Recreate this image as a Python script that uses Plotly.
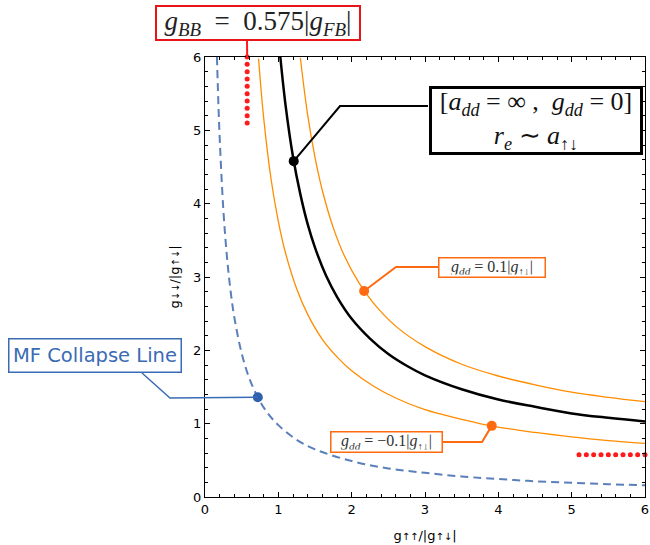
import plotly.graph_objects as go

# ---------------- data ----------------
mf_x = [0.163, 0.18, 0.2, 0.25, 0.3, 0.35, 0.4, 0.5, 0.6, 0.72, 0.85, 1.0, 1.25, 1.5,
        2.0, 2.5, 3.0, 3.5, 4.0, 4.5, 5.0, 5.5, 6.0]
mf_y = [6.0, 5.44, 4.9, 3.92, 3.27, 2.8, 2.45, 1.96, 1.63, 1.36, 1.15, 0.98, 0.78, 0.65,
        0.49, 0.39, 0.33, 0.28, 0.245, 0.215, 0.195, 0.175, 0.16]

black_x = [1.027, 1.1, 1.2, 1.3, 1.4, 1.5, 1.65, 1.8, 2.0, 2.25, 2.5, 2.75, 3.0, 3.5,
           4.0, 4.5, 5.0, 5.5, 6.0]
black_y = [6.0, 5.33, 4.64, 4.13, 3.72, 3.40, 3.02, 2.73, 2.43, 2.16, 1.95, 1.79, 1.66, 1.47,
           1.33, 1.23, 1.14, 1.08, 1.03]

orange_up_x = [1.3, 1.4, 1.5, 1.6, 1.75, 1.9, 2.1, 2.3, 2.6, 3.0, 3.5, 4.0, 4.5, 5.0, 5.5, 6.0]
orange_up_y = [5.99, 5.21, 4.63, 4.18, 3.67, 3.29, 2.92, 2.64, 2.33, 2.05, 1.81, 1.65, 1.53,
               1.43, 1.36, 1.30]

orange_lo_x = [0.73, 0.8, 0.9, 1.0, 1.1, 1.25, 1.4, 1.6, 1.8, 2.0, 2.3, 2.6, 3.0, 3.5, 3.9,
               4.5, 5.0, 5.5, 6.0]
orange_lo_y = [5.98, 5.17, 4.34, 3.76, 3.32, 2.84, 2.49, 2.15, 1.91, 1.72, 1.51, 1.35, 1.19,
               1.06, 0.97, 0.88, 0.82, 0.77, 0.73]

g_bb_ratio = 0.575
red_v_y = [6.0, 5.9, 5.8, 5.7, 5.6, 5.5, 5.4, 5.3, 5.2, 5.1]
red_h_x = [5.1, 5.2, 5.3, 5.4, 5.5, 5.6, 5.7, 5.8, 5.9, 6.0]

black_pt = (1.21, 4.58)
orange_up_pt = (2.17, 2.81)
orange_lo_pt = (3.91, 0.97)
mf_pt = (0.72, 1.36)

x_ticks = [0, 1, 2, 3, 4, 5, 6]
y_ticks = [0, 1, 2, 3, 4, 5, 6]
AX_RANGE = [0, 6]

# ---------------- layout geometry ----------------
W, H = 650, 545
ML, MR, MT, MB = 205, 5, 57, 48
PW, PH = W - ML - MR, H - MT - MB


def pp(px, py):
    """page pixel -> paper coordinates"""
    return (px - ML) / PW, (H - MB - py) / PH


def dp(x, y):
    """data -> paper coordinates"""
    s = AX_RANGE[1] - AX_RANGE[0]
    return (x - AX_RANGE[0]) / s, (y - AX_RANGE[0]) / s


BLUE = "#5a7fbb"
CBLUE = "#3a6bb5"
ORANGE = "#ff8c00"
CORANGE = "#ff6a10"
RED = "#ff1a1a"
SERIF = "Liberation Serif"
SANS = "DejaVu Sans"
NB = "\u00a0"

fig = go.Figure()

fig.add_trace(go.Scatter(x=mf_x, y=mf_y, mode="lines", line_shape="spline",
                         line=dict(color=BLUE, width=2, dash="8px,5px"), showlegend=False))
fig.add_trace(go.Scatter(x=orange_up_x, y=orange_up_y, mode="lines", line_shape="spline",
                         line=dict(color=ORANGE, width=1.3), showlegend=False))
fig.add_trace(go.Scatter(x=orange_lo_x, y=orange_lo_y, mode="lines", line_shape="spline",
                         line=dict(color=ORANGE, width=1.3), showlegend=False))
fig.add_trace(go.Scatter(x=black_x, y=black_y, mode="lines", line_shape="spline",
                         line=dict(color="black", width=2.5), showlegend=False))
fig.add_trace(go.Scatter(x=[g_bb_ratio] * len(red_v_y), y=red_v_y, mode="markers",
                         marker=dict(color=RED, size=5), cliponaxis=False, showlegend=False))
fig.add_trace(go.Scatter(x=red_h_x, y=[g_bb_ratio] * len(red_h_x), mode="markers",
                         marker=dict(color=RED, size=5), cliponaxis=False, showlegend=False))

# callout connector lines
shapes = []


def path_shape(points, color, width):
    d = "M " + " L ".join(f"{x:.5f},{y:.5f}" for x, y in points)
    return dict(type="path", path=d, xref="paper", yref="paper",
                line=dict(color=color, width=width), layer="above")


shapes.append(path_shape([dp(*black_pt), pp(340, 106), pp(428, 106)], "black", 2))
shapes.append(path_shape([dp(*orange_up_pt), pp(396, 267), pp(438, 267)], CORANGE, 2))
shapes.append(path_shape([dp(*orange_lo_pt), pp(482, 442), pp(443, 442)], CORANGE, 2))
shapes.append(path_shape([pp(142, 373), pp(170, 398), dp(*mf_pt)], CBLUE, 1.5))
shapes.append(path_shape([pp(247, 40), dp(g_bb_ratio, 6)], RED, 2))

# callout points
for (px_, py_), col in [(black_pt, "black"), (orange_up_pt, CORANGE),
                        (orange_lo_pt, CORANGE), (mf_pt, "#2f62ad")]:
    fig.add_trace(go.Scatter(x=[px_], y=[py_], mode="markers",
                             marker=dict(color=col, size=10), cliponaxis=False, showlegend=False))

annotations = []


def box(text, cx, cy, w, h, color, bw, font, size, fcolor):
    x, y = pp(cx, cy)
    annotations.append(dict(text=text, x=x, y=y, xref="paper", yref="paper",
                            xanchor="center", yanchor="middle", showarrow=False,
                            width=w, height=h, bordercolor=color, borderwidth=bw,
                            borderpad=2, bgcolor="white",
                            font=dict(family=font, size=size, color=fcolor)))


box(f"<i>g</i><sub><i>BB</i></sub>{NB}{NB}={NB}{NB}0.575|<i>g</i><sub><i>FB</i></sub>|",
    257.5, 22.5, 198, 28, "#e8141a", 2, SERIF, 27, "#222222")
box(f"[<i>a</i><sub><i>dd</i></sub>{NB}={NB}∞{NB},{NB}{NB}<i>g</i><sub><i>dd</i></sub>{NB}={NB}0]<br>"
    f"<i>r</i><sub><i>e</i></sub>{NB}∼{NB}<i>a</i><sub>↑↓</sub>",
    535.5, 120, 204, 59, "black", 3, SERIF, 26, "#111111")
box(f"<i>g</i><sub><i>dd</i></sub>{NB}={NB}0.1|<i>g</i><sub>↑↓</sub>|",
    492, 267, 101, 14, CORANGE, 1.5, SERIF, 16, "#333333")
box(f"<i>g</i><sub><i>dd</i></sub>{NB}={NB}−0.1|<i>g</i><sub>↑↓</sub>|",
    386.5, 441.5, 106, 15, CORANGE, 1.5, SERIF, 16, "#333333")
box("MF Collapse Line", 95, 355.5, 167, 28, CBLUE, 1.5, SANS, 19.5, CBLUE)

axis_common = dict(range=AX_RANGE, showgrid=False, zeroline=False, showline=True,
                   linecolor="black", linewidth=1, mirror="ticks",
                   ticks="inside", ticklen=5, tickwidth=1, tickcolor="black",
                   minor=dict(ticks="inside", ticklen=3, dtick=0.2, tickcolor="black", tickwidth=1),
                   tickfont=dict(family=SANS, size=13, color="black"),
                   tickmode="array")

fig.update_xaxes(**axis_common, tickvals=x_ticks, ticktext=[str(t) for t in x_ticks],
                 title=dict(text="g<span style='font-size:10px'>↑↑</span>/|g<span style='font-size:10px'>↑↓</span>|",
                            font=dict(family=SANS, size=13, color="black"), standoff=15))
fig.update_yaxes(**axis_common, tickvals=y_ticks, ticktext=[str(t) for t in y_ticks],
                 title=dict(text="g<span style='font-size:10px'>↓↓</span>/|g<span style='font-size:10px'>↑↓</span>|",
                            font=dict(family=SANS, size=13, color="black"), standoff=10))

fig.update_layout(width=W, height=H, margin=dict(l=ML, r=MR, t=MT, b=MB, autoexpand=False),
                  plot_bgcolor="white", paper_bgcolor="white",
                  shapes=shapes, annotations=annotations, showlegend=False)

fig.write_html("out.html", config={"displayModeBar": False},
               post_script="document.body.style.margin='0';document.body.style.overflow='hidden';")
